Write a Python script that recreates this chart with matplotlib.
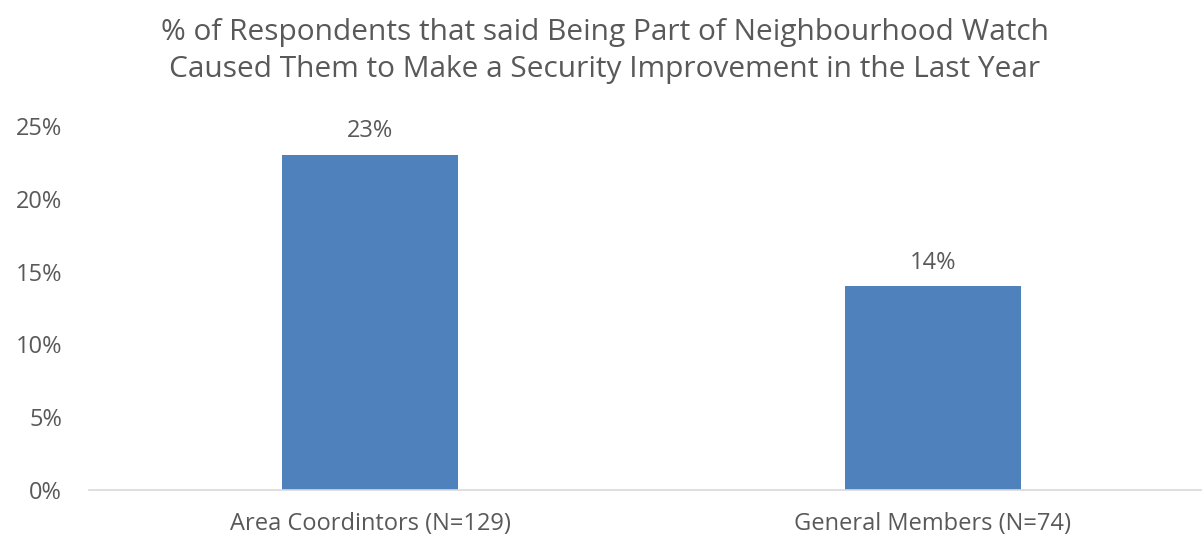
import matplotlib
matplotlib.use('Agg')
import matplotlib.pyplot as plt
from matplotlib.ticker import FuncFormatter

# Данные
categories = ['Area Coordintors (N=129)', 'General Members (N=74)']
values = [23, 14]
yticks = [0, 5, 10, 15, 20, 25]

title = ('% of Respondents that said Being Part of Neighbourhood Watch\n'
         'Caused Them to Make a Security Improvement in the Last Year')

text_color = '#595959'
bar_color = '#4F81BD'

plt.rcParams['font.family'] = ['Open Sans', 'DejaVu Sans']

W, H = 1202, 539
fig = plt.figure(figsize=(W / 100, H / 100), dpi=100)
ax = fig.add_axes([89 / W, 49 / H, (W - 89) / W, (490 - 126) / H])

x = range(len(categories))
bars = ax.bar(x, values, width=0.313, color=bar_color, zorder=2)
for b, v in zip(bars, values):
    ax.text(b.get_x() + b.get_width() / 2, v + 0.8, f'{v}%',
            ha='center', va='bottom', fontsize=17, color=text_color)

ax.set_xlim(-0.5, 1.479)
ax.set_ylim(0, 25)
ax.set_yticks(yticks)
ax.yaxis.set_major_formatter(FuncFormatter(lambda v, p: f'{v:.0f}%'))
ax.set_xticks(list(x))
ax.set_xticklabels(categories)

for s in ['top', 'right', 'left']:
    ax.spines[s].set_visible(False)
ax.spines['bottom'].set_color('#D9D9D9')
ax.spines['bottom'].set_linewidth(1.2)
ax.tick_params(axis='both', length=0, labelsize=17, labelcolor=text_color)
ax.tick_params(axis='y', pad=19.5)
ax.tick_params(axis='x', pad=16)

fig.text(605 / W, 1 - 51 / H, title, ha='center', va='center',
         fontsize=21.5, color=text_color, linespacing=1.4)

fig.savefig('out.png', dpi=100)
